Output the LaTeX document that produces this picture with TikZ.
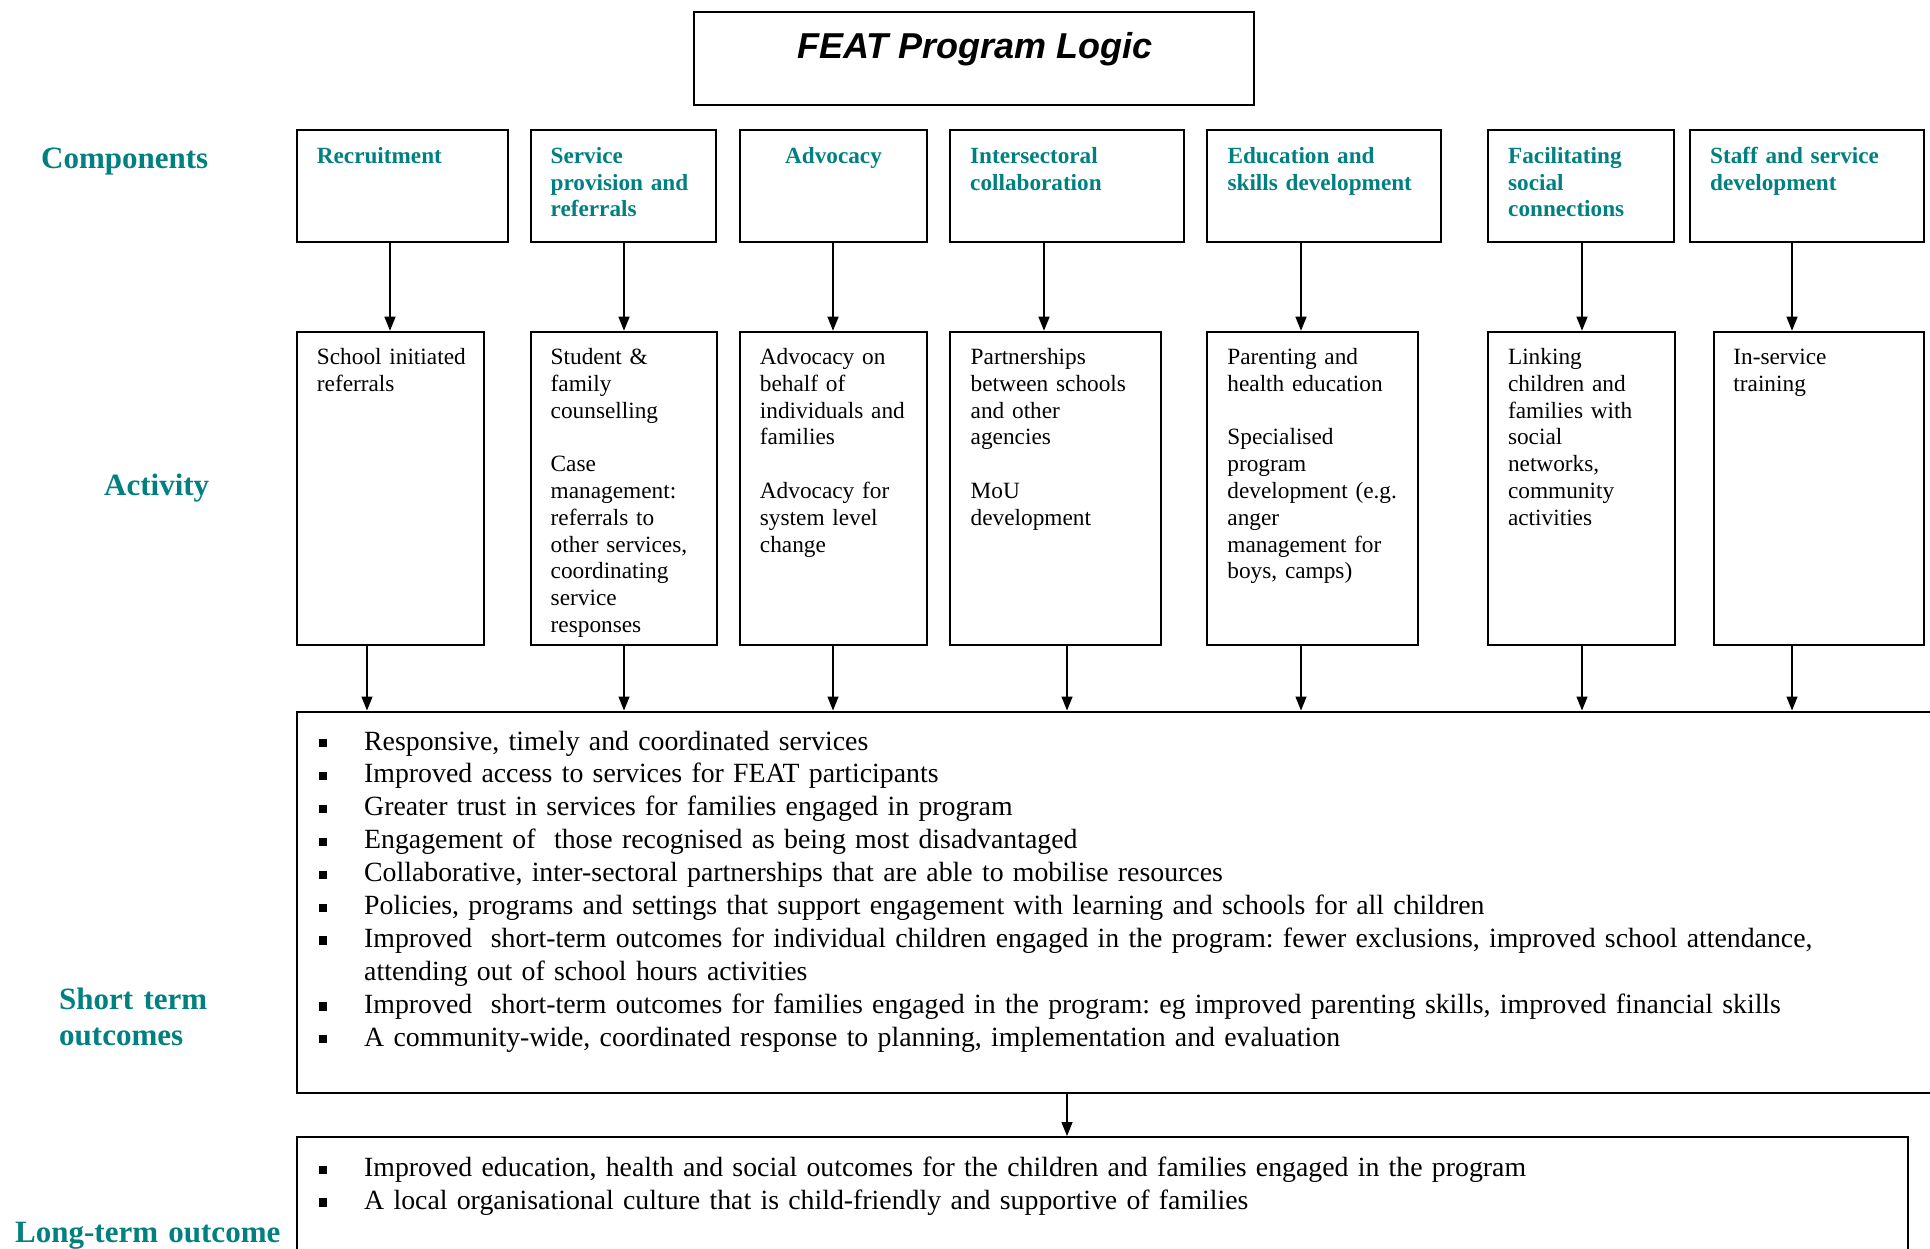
\documentclass[tikz,border=0pt]{standalone}
\usepackage{fontspec}
\setmainfont{Liberation Serif}
\newfontfamily\titlefont{Liberation Sans}
\usetikzlibrary{arrows.meta,fit}
\definecolor{featteal}{RGB}{0,128,128}
\newcommand\blt{\makebox[45pt][l]{\rule[2.7pt]{7.5pt}{8.3pt}}}
\newcommand\fgap{\\[\baselineskip]}
\frenchspacing
\tikzset{
  box/.style={draw, line width=2pt, inner sep=0pt},
  conn/.style={line width=1.4pt, -{Triangle[length=14pt,width=11pt]}},
  comptext/.style={anchor=base west, inner sep=0pt, text width=230pt, align=left,
    text=featteal, font=\fontsize{23.2}{26.5}\selectfont\bfseries},
  acttext/.style={anchor=base west, inner sep=0pt, text width=230pt, align=left,
    font=\fontsize{23.3}{26.8}\selectfont},
  rowlabel/.style={anchor=base west, inner sep=0pt, text width=300pt, align=left,
    text=featteal, font=\fontsize{31}{36}\selectfont\bfseries},
  outtext/.style={anchor=base west, inner sep=0pt, text width=1580pt, align=left,
    font=\fontsize{27.8}{32.9}\selectfont},
}
\begin{document}
\begin{tikzpicture}[x=1pt,y=-1pt]
\useasboundingbox (0,0) rectangle (1930,1248);
\clip (0,0) rectangle (1930,1248);

% title
\node[box, fit={(694,12) (1254,105)}] (title) {};
\node[anchor=base, inner sep=0pt, font=\titlefont\fontsize{36}{40}\selectfont\bfseries\itshape] (titletext) at (975,58.5) {FEAT Program Logic};

% row labels
\node[rowlabel] (lcomp) at (41,168.5) {Components};
\node[rowlabel] (lact) at (104,495.5) {Activity};
\node[rowlabel] (lshort) at (59,1009) {Short term\\outcomes};
\node[rowlabel] (llong) at (15,1242) {Long-term outcome};

% component boxes
\node[box, fit={(296.6,130) (507.5,241.7)}] (c1) {};
\node[box, fit={(530.5,130) (716.3,241.7)}] (c2) {};
\node[box, fit={(739.7,130) (926.8,241.7)}] (c3) {};
\node[box, fit={(950,130) (1184,241.7)}] (c4) {};
\node[box, fit={(1207.4,130) (1441.2,241.7)}] (c5) {};
\node[box, fit={(1488,130) (1674,241.7)}] (c6) {};
\node[box, fit={(1690,130) (1923.7,241.7)}] (c7) {};

\node[comptext] (c1t) at (316.7,163.7) {Recruitment};
\node[comptext] (c2t) at (550.5,163.7) {Service\\provision and\\referrals};
\node[comptext] (c3t) at (785,163.7) {Advocacy};
\node[comptext] (c4t) at (970,163.7) {Intersectoral\\collaboration};
\node[comptext] (c5t) at (1227.4,163.7) {Education and\\skills development};
\node[comptext] (c6t) at (1508,163.7) {Facilitating\\social\\connections};
\node[comptext] (c7t) at (1710,163.7) {Staff and service\\development};

% activity boxes
\node[box, fit={(296.6,331.7) (483.5,644.7)}] (a1) {};
\node[box, fit={(530.5,331.7) (716.8,644.7)}] (a2) {};
\node[box, fit={(739.7,331.7) (926.8,644.7)}] (a3) {};
\node[box, fit={(950,331.7) (1161,644.7)}] (a4) {};
\node[box, fit={(1207.4,331.7) (1417.8,644.7)}] (a5) {};
\node[box, fit={(1488,331.7) (1674.5,644.7)}] (a6) {};
\node[box, fit={(1713.7,331.7) (1923.7,644.7)}] (a7) {};

\node[acttext] (a1t) at (316.7,364.5) {School initiated\\referrals};
\node[acttext] (a2t) at (550.5,364.5) {Student \&\\family\\counselling\fgap Case\\management:\\referrals to\\other services,\\coordinating\\service\\responses};
\node[acttext] (a3t) at (759.7,364.5) {Advocacy on\\behalf of\\individuals and\\families\fgap Advocacy for\\system level\\change};
\node[acttext] (a4t) at (970.5,364.5) {Partnerships\\between schools\\and other\\agencies\fgap MoU\\development};
\node[acttext] (a5t) at (1227.2,364.5) {Parenting and\\health education\fgap Specialised\\program\\development (e.g.\\anger\\management for\\boys, camps)};
\node[acttext] (a6t) at (1507.8,364.5) {Linking\\children and\\families with\\social\\networks,\\community\\activities};
\node[acttext] (a7t) at (1733.2,364.5) {In-service\\training};

% outcome boxes
\node[box, fit={(296.6,711.5) (1945,1093)}] (st) {};
\node[box, fit={(296.6,1137) (1908,1270)}] (lt) {};

\node[outtext] (stt) at (319,750) {\blt Responsive, timely and coordinated services\\
\blt Improved access to services for FEAT participants\\
\blt Greater trust in services for families engaged in program\\
\blt Engagement of\ \ those recognised as being most disadvantaged\\
\blt Collaborative, inter-sectoral partnerships that are able to mobilise resources\\
\blt Policies, programs and settings that support engagement with learning and schools for all children\\
\blt Improved\ \ short-term outcomes for individual children engaged in the program: fewer exclusions, improved school attendance,\\
\hspace*{45pt}attending out of school hours activities\\
\blt Improved\ \ short-term outcomes for families engaged in the program: eg improved parenting skills, improved financial skills\\
\blt A community-wide, coordinated response to planning, implementation and evaluation};

\node[outtext] (ltt) at (319,1176.5) {\blt Improved education, health and social outcomes for the children and families engaged in the program\\
\blt A local organisational culture that is child-friendly and supportive of families};

% arrow x positions
\coordinate (u1) at (390,0);
\coordinate (u2) at (624,0);
\coordinate (u3) at (833,0);
\coordinate (u4) at (1044,0);
\coordinate (u5) at (1301,0);
\coordinate (u6) at (1582,0);
\coordinate (u7) at (1792,0);
\coordinate (d1) at (367,0);
\coordinate (d2) at (624,0);
\coordinate (d3) at (833,0);
\coordinate (d4) at (1067,0);
\coordinate (d5) at (1301,0);
\coordinate (d6) at (1582,0);
\coordinate (d7) at (1792,0);

\foreach \i in {1,...,7}{
  \draw[conn] (c\i.south -| u\i) -- (a\i.north -| u\i);
  \draw[conn] (a\i.south -| d\i) -- (st.north -| d\i);
}
\draw[conn] (st.south -| d4) -- (lt.north -| d4);
\end{tikzpicture}
\end{document}
